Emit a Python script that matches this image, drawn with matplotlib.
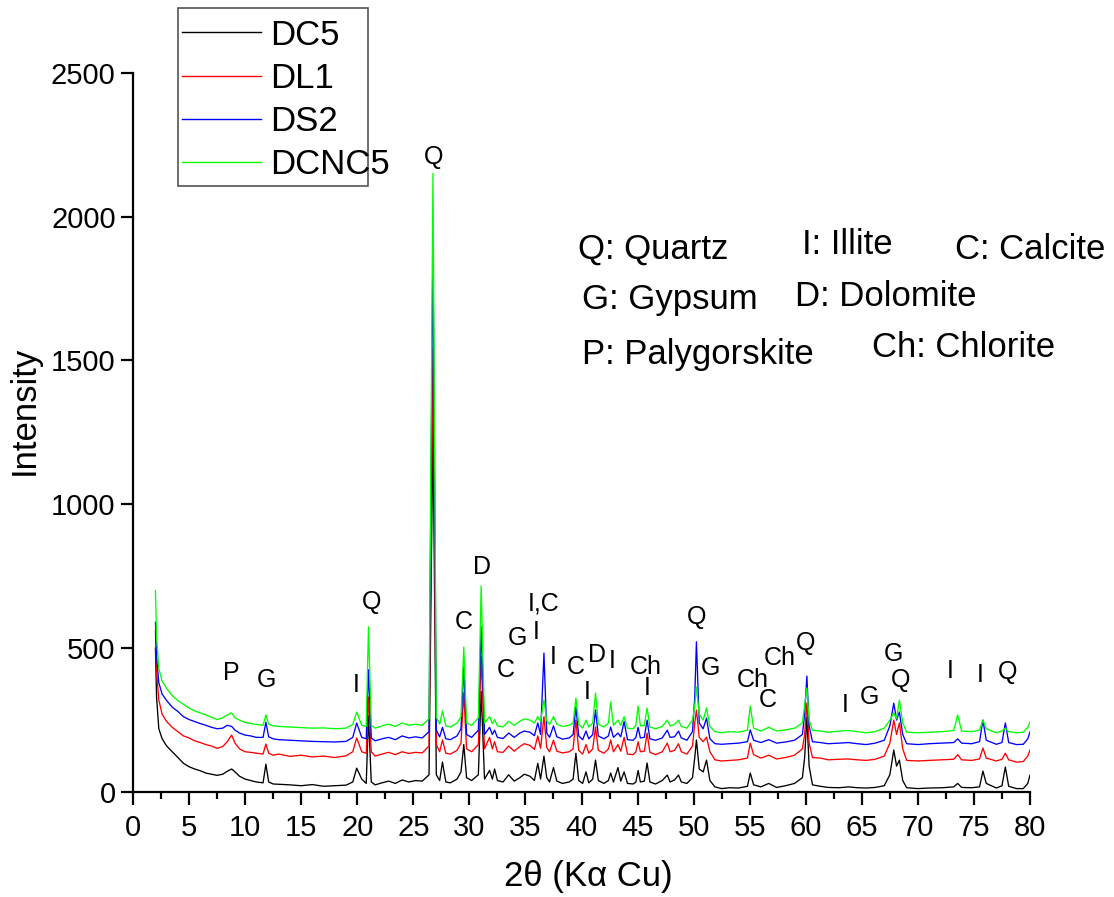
import numpy as np
import matplotlib
matplotlib.use("Agg")
import matplotlib.pyplot as plt
from matplotlib.patches import Rectangle

plt.rcParams['font.family'] = ['Liberation Sans', 'DejaVu Sans']

# =========================
# XRD PATTERNS (2theta in degrees, intensity in counts)
# =========================
two_theta = [
    # 2 - 10
    2.0, 2.1, 2.3, 2.6, 3.0, 3.5, 4.0, 4.5, 5.0, 5.5,
    6.0, 6.5, 7.0, 7.5, 8.0, 8.4, 8.8, 9.1, 9.5, 10.0,
    # 10.5 - 19.5
    10.5, 11.0, 11.6, 11.85, 12.1, 12.5, 13.0, 14.0, 15.0, 16.0,
    17.0, 18.0, 19.0, 19.6,
    # 19.9 - 26.3
    19.95, 20.4, 20.8, 21.0, 21.25, 21.6, 22.2, 22.8, 23.4, 24.0,
    24.6, 25.2, 25.8, 26.4,
    # 26.7 - 31.3
    26.75, 27.05, 27.35, 27.6, 27.9, 28.3, 28.9, 29.25, 29.5, 29.75,
    30.2, 30.8, 31.05, 31.35,
    # 31.75 - 38.9
    31.8, 32.05, 32.25, 32.5, 33.0, 33.5, 34.0, 34.5, 34.9, 35.4,
    35.8, 36.1, 36.35, 36.65, 36.9, 37.15, 37.5, 37.8, 38.3, 38.9,
    # 39.2 - 45.2
    39.25, 39.5, 39.75, 40.1, 40.4, 40.65, 41.0, 41.25, 41.5, 42.0,
    42.4, 42.6, 42.85, 43.25, 43.5, 43.8, 44.1, 44.6, 44.85, 45.05,
    45.25,
    # 45.55 - 51.9
    45.6, 45.85, 46.1, 46.6, 47.2, 47.65, 47.9, 48.3, 48.65, 48.9,
    49.4, 49.9, 50.1, 50.25, 50.5, 50.85, 51.15, 51.45, 51.9,
    # 52.5 - 59.6
    52.5, 53.2, 54.0, 54.8, 55.05, 55.35, 56.0, 56.7, 57.4, 58.2,
    59.0, 59.7,
    # 59.85 - 69
    59.9, 60.1, 60.3, 60.6, 61.3, 62.0, 63.0, 63.8, 64.6, 65.4,
    66.2, 67.0, 67.5, 67.85, 68.1, 68.35, 68.65, 69.0,
    # 70 - 80
    70.0, 71.0, 72.2, 73.2, 73.55, 73.9, 74.8, 75.5, 75.8, 76.1,
    77.0, 77.5, 77.8, 78.1, 78.8, 79.4, 79.8, 80.0,
]

dc5 = [
    500, 330, 220, 185, 160, 140, 120, 100, 88, 80,
    74, 66, 62, 58, 62, 72, 80, 70, 55, 45,
    40, 35, 32, 97, 35, 28, 27, 25, 22, 26,
    20, 22, 24, 35,
    83, 45, 30, 265, 35, 25, 32, 38, 30, 42,
    35, 40, 38, 60,
    1280, 60, 40, 104, 35, 32, 45, 70, 165, 50,
    40, 60, 350, 45,
    75, 45, 80, 40, 35, 60, 38, 50, 62, 55,
    40, 100, 45, 125, 50, 35, 85, 38, 30, 35,
    45, 135, 40, 30, 70, 32, 45, 111, 40, 30,
    40, 66, 35, 85, 38, 70, 30, 28, 35, 75,
    35,
    38, 101, 35, 28, 40, 59, 35, 42, 59, 35,
    30, 50, 120, 181, 80, 70, 111, 40, 18,
    12, 15, 14, 20, 66, 25, 18, 30, 16, 22,
    30, 50,
    120, 261, 90, 25, 20, 16, 15, 18, 15, 14,
    16, 22, 60, 146, 90, 111, 40, 15,
    12, 14, 15, 18, 30, 16, 15, 18, 73, 30,
    14, 22, 87, 20, 12, 12, 30, 59,
]

dl1 = [
    560, 420, 320, 270, 245, 225, 210, 195, 188, 178,
    172, 165, 160, 152, 158, 175, 198, 170, 150, 140,
    138, 135, 132, 167, 135, 128, 132, 124, 128, 122,
    125, 120, 126, 140,
    188, 140, 135, 330, 140, 125, 132, 138, 130, 140,
    134, 138, 136, 160,
    1540, 165, 140, 181, 135, 132, 145, 170, 345, 150,
    140, 165, 470, 150,
    190, 150, 175, 140, 138, 160, 142, 158, 168, 162,
    148, 195, 152, 262, 155, 140, 180, 142, 136, 140,
    150, 250, 145, 132, 165, 135, 150, 226, 145, 135,
    150, 181, 140, 165, 142, 190, 132, 130, 140, 175,
    140,
    142, 205, 138, 130, 140, 170, 140, 145, 168, 140,
    132, 160, 240, 285, 190, 175, 191, 140, 112,
    108, 110, 112, 118, 170, 130, 118, 128, 115, 120,
    128, 150,
    200, 309, 170, 120, 118, 112, 114, 115, 112, 110,
    114, 125, 170, 250, 200, 240, 150, 110,
    108, 110, 112, 114, 130, 112, 110, 115, 153, 118,
    108, 114, 135, 112, 104, 106, 125, 146,
]

ds2 = [
    590, 470, 380, 340, 318, 295, 280, 262, 252, 245,
    238, 232, 225, 220, 222, 232, 228, 215, 205, 198,
    195, 190, 190, 243, 192, 185, 182, 180, 178, 176,
    175, 174, 176, 190,
    240, 190, 185, 425, 188, 178, 185, 190, 182, 195,
    188, 192, 188, 210,
    1915, 215, 192, 225, 185, 182, 195, 220, 435, 200,
    190, 215, 575, 200,
    225, 200, 215, 190, 186, 205, 190, 205, 212, 208,
    196, 240, 200, 483, 205, 190, 230, 192, 184, 188,
    200, 296, 195, 182, 212, 185, 200, 285, 195, 185,
    195, 226, 190, 205, 192, 245, 182, 180, 190, 225,
    188,
    190, 250, 185, 180, 188, 215, 190, 192, 212, 188,
    180, 210, 330, 522, 240, 220, 257, 185, 168,
    166, 168, 170, 175, 216, 180, 172, 182, 170, 174,
    180, 200,
    270, 403, 230, 175, 172, 168, 170, 172, 168, 165,
    170, 180, 230, 309, 250, 278, 200, 168,
    165, 168, 170, 172, 185, 170, 168, 175, 250, 180,
    166, 172, 240, 172, 165, 166, 185, 209,
]

dcnc5 = [
    700, 540, 430, 385, 360, 335, 318, 305, 292, 282,
    275, 268, 260, 252, 258, 268, 275, 258, 250, 242,
    238, 235, 232, 268, 236, 230, 228, 226, 224, 222,
    223, 220, 222, 235,
    278, 232, 228, 574, 232, 222, 230, 236, 228, 240,
    232, 236, 232, 255,
    2150, 260, 236, 282, 230, 226, 240, 262, 504, 240,
    232, 258, 716, 240,
    262, 238, 252, 230, 226, 246, 232, 246, 254, 250,
    240, 262, 245, 320, 248, 235, 262, 236, 228, 232,
    240, 327, 236, 222, 250, 226, 240, 344, 236, 226,
    240, 313, 232, 250, 232, 262, 222, 220, 232, 299,
    230,
    232, 292, 226, 220, 228, 250, 230, 235, 250, 228,
    222, 250, 300, 365, 270, 250, 292, 228, 210,
    206, 210, 208, 215, 299, 222, 212, 225, 212, 216,
    222, 240,
    300, 362, 250, 215, 212, 208, 212, 214, 210, 206,
    210, 222, 250, 275, 255, 320, 240, 208,
    206, 208, 210, 214, 268, 212, 210, 215, 250, 220,
    206, 212, 222, 210, 206, 208, 225, 243,
]

sample_names = ["DC5", "DL1", "DS2", "DCNC5"]
sample_colors = ["#000000", "#ff0000", "#0000ff", "#00ff00"]

# =========================
# PHASE LABELS ABOVE PEAKS
# =========================
peak_labels = ["Q", "D", "C", "Q", "P", "G", "I", "I,C", "G", "I",
               "C", "I", "C", "D", "I", "I", "Ch", "I", "Q", "G",
               "Ch", "C", "Ch", "Q", "I", "G", "G", "Q", "I", "I", "Q"]
peak_label_x = [26.8, 31.1, 29.5, 21.3, 8.8, 11.9, 19.9, 36.6, 34.3, 36.0,
                33.2, 37.5, 39.5, 41.4, 40.5, 42.7, 45.7, 45.9, 50.3, 51.5,
                55.3, 56.6, 57.7, 60.0, 63.5, 65.7, 67.8, 68.5, 72.9, 75.6,
                78.0]
peak_label_y = [2208, 782, 591, 662, 414, 389, 372, 654, 535, 556,
                424, 469, 436, 476, 347, 457, 436, 360, 610, 431,
                389, 320, 466, 518, 302, 330, 480, 389, 421, 407,
                417]

phase_keys = ["Q: Quartz", "I: Illite", "C: Calcite", "G: Gypsum",
              "D: Dolomite", "P: Palygorskite", "Ch: Chlorite"]
phase_key_x = [39.7, 59.7, 73.3, 40.0, 59.0, 40.0, 65.9]
phase_key_y = [1885, 1902, 1885, 1711, 1721, 1519, 1544]

# =========================
# PLOT
# =========================
fig = plt.figure(figsize=(11.14, 8.97), dpi=100)
ax = fig.add_axes([0.1194, 0.117, 0.8052, 0.802])

lines = []
for k, (ys, name, col) in enumerate(zip([dc5, dl1, ds2, dcnc5],
                                        sample_names, sample_colors)):
    ln, = ax.plot(two_theta, ys, color=col, lw=0.95, label=name, zorder=2 + k)
    lines.append(ln)

for lab, lx, ly in zip(peak_labels, peak_label_x, peak_label_y):
    ax.text(lx, ly, lab, fontsize=18, ha="center", va="center", zorder=10)

for lab, lx, ly in zip(phase_keys, phase_key_x, phase_key_y):
    ax.text(lx, ly, lab, fontsize=25, ha="left", va="center", zorder=10)

ax.set_xlim(0, 80)
ax.set_ylim(0, 2500)
ax.set_xticks(np.arange(0, 81, 5))
ax.set_xticks(np.arange(2.5, 80, 5), minor=True)
ax.set_yticks(np.arange(0, 2501, 500))

for side in ["top", "right"]:
    ax.spines[side].set_visible(False)
for side in ["left", "bottom"]:
    ax.spines[side].set_linewidth(1.6)

ax.tick_params(axis="both", which="major", direction="out", length=9,
               width=1.6, labelsize=21)
ax.tick_params(axis="x", which="minor", direction="out", length=5, width=1.6)
ax.tick_params(axis="x", pad=7)

ax.set_xlabel("2θ (Kα Cu)", fontsize=25)
ax.xaxis.set_label_coords(0.508, -0.095)
ax.set_ylabel("Intensity", fontsize=25)
ax.yaxis.set_label_coords(-0.103, 0.53)

# legend box, drawn separately so the label text can reach its right edge
fig.add_artist(Rectangle((178 / 1114, 1 - 186 / 897), 190 / 1114, 178 / 897,
                         transform=fig.transFigure, facecolor="white",
                         edgecolor="#555555", linewidth=1.2, zorder=20))
leg = fig.legend(handles=lines, loc="upper left",
                 bbox_to_anchor=(0.157, 0.987), fontsize=25,
                 frameon=False, handlelength=2.28,
                 handletextpad=0.26, labelspacing=0.29, borderpad=0.2,
                 borderaxespad=0.0)
leg.set_zorder(21)
for h in leg.get_lines():
    h.set_linewidth(1.0)

fig.savefig("out.png", dpi=100)
